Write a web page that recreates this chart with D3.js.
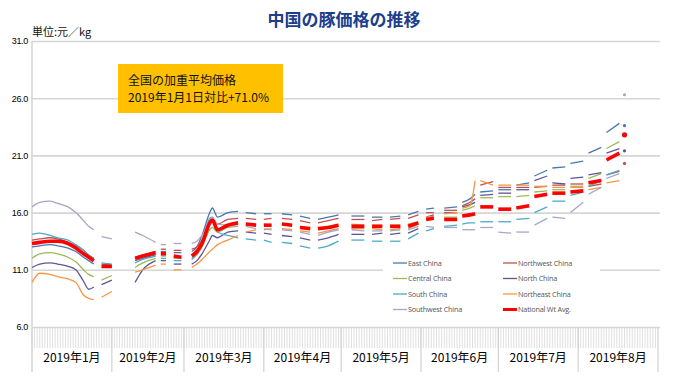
<!DOCTYPE html>
<html><head><meta charset="utf-8">
<script src="https://cdn.jsdelivr.net/npm/d3@7"></script>
<style>
html,body{margin:0;padding:0;background:#fff;}
svg{display:block;}
</style></head>
<body><svg id="chart" width="680" height="379"></svg>
<script>
// ---------- DATA ----------
const titleText = "中国の豚価格の推移";
const unitText = "単位:元／kg";
const noteLines = ["全国の加重平均価格", "2019年1月1日対比+71.0%"];
const yTicks = [6, 11, 16, 21, 26, 31];
const monthLabels = ["2019年1月","2019年2月","2019年3月","2019年4月","2019年5月","2019年6月","2019年7月","2019年8月"];
const seriesNames = ["East China","Northwest China","Central China","North China","South China","Northeast China","Southwest China","National Wt Avg."];

const dates = [
 "2019-01-01","2019-01-04","2019-01-08","2019-01-11","2019-01-15","2019-01-18","2019-01-21","2019-01-23","2019-01-25",
 "2019-01-28","2019-02-01",
 "2019-02-10","2019-02-13","2019-02-18",
 "2019-02-20","2019-02-22",
 "2019-02-25","2019-02-28",
 "2019-03-04","2019-03-06","2019-03-08","2019-03-11","2019-03-12","2019-03-14","2019-03-18","2019-03-22",
 "2019-03-25","2019-03-29",
 "2019-04-01","2019-04-04",
 "2019-04-08","2019-04-12",
 "2019-04-15","2019-04-19",
 "2019-04-22","2019-04-26","2019-04-30",
 "2019-05-05","2019-05-10",
 "2019-05-13","2019-05-17",
 "2019-05-20","2019-05-24",
 "2019-05-27","2019-05-31",
 "2019-06-03","2019-06-06",
 "2019-06-10","2019-06-15",
 "2019-06-17","2019-06-20","2019-06-22",
 "2019-06-24","2019-06-29",
 "2019-07-01","2019-07-06",
 "2019-07-08","2019-07-13",
 "2019-07-15","2019-07-20",
 "2019-07-22","2019-07-27",
 "2019-07-29","2019-08-03",
 "2019-08-05","2019-08-10",
 "2019-08-12","2019-08-17",
 "2019-08-19"];
const segmentIds = [
 0,0,0,0,0,0,0,0,0, 1,1, 2,2,2, 3,3, 4,4, 5,5,5,5,5,5,5,5, 6,6, 7,7, 8,8, 9,9, 10,10,10,
 11,11, 12,12, 13,13, 14,14, 15,15, 16,16, 17,17,17, 18,18, 19,19, 20,20, 21,21, 22,22,
 23,23, 24,24, 25,25, 26];

const eastChina = [13.0,13.1,13.2,13.1,12.9,12.6,12.1,11.8,11.5, 11.2,11.2, 11.8,12.0,12.3, 12.6,12.6, 12.5,12.5,
 12.6,13.0,14.0,16.0,16.4,15.6,16.0,16.1, 16.0,15.9, 15.9,15.9, 15.9,15.8, 15.7,15.5, 15.4,15.6,15.8,
 15.7,15.7, 15.6,15.6, 15.6,15.7, 15.8,16.1, 16.3,16.4, 16.4,16.5, 16.9,17.2,17.6, 17.8,17.9, 18.0,18.0,
 18.4,18.6, 19.2,19.7, 19.9,20.0, 20.3,20.5, 21.2,21.7, 23.0,23.8, 23.6];
const northwestChina = [13.6,13.7,13.8,13.7,13.4,13.1,12.7,12.3,12.0, 11.5,11.4, 12.1,12.3,12.6, 12.8,12.8, 12.7,12.7,
 12.8,13.0,13.6,15.0,15.2,15.0,15.4,15.5, 15.5,15.4, 15.4,15.5, 15.5,15.4, 15.3,15.1, 15.1,15.3,15.5,
 15.4,15.4, 15.3,15.4, 15.4,15.5, 15.5,15.8, 16.0,16.0, 16.2,16.2, 16.6,16.9,17.2, 18.4,18.7, 18.2,18.2,
 18.2,18.2, 18.2,18.3, 18.4,18.4, 18.5,18.5, 18.3,18.5, 19.3,19.6, 20.3];
const centralChina = [12.0,12.4,12.5,12.4,12.1,11.7,11.0,10.6,10.4, 10.1,10.5, 11.2,11.6,12.0, 12.2,12.2, 12.0,12.0,
 12.0,12.3,13.0,14.5,14.7,14.3,14.7,14.8, 15.0,15.0, 15.0,14.9, 15.0,14.9, 14.8,14.6, 14.6,14.8,15.0,
 15.0,14.9, 14.9,14.9, 14.9,14.9, 15.0,15.2, 15.4,15.5, 15.6,15.6, 16.2,16.4,16.6, 17.3,17.3, 17.4,17.4,
 17.4,17.5, 17.8,17.9, 18.0,18.0, 18.3,18.3, 19.0,19.4, 21.6,22.2, null];
const northChina = [11.2,11.5,11.6,11.5,11.3,11.0,10.0,9.3,9.5, 9.7,10.1, 9.9,11.0,11.8, 11.8,11.8, 11.5,11.5,
 11.5,11.8,12.4,13.6,14.0,13.8,14.3,14.4, 14.3,14.2, 14.2,14.1, 14.0,13.9, 13.8,13.6, 13.6,13.8,14.1,
 14.1,14.1, 14.1,14.2, 14.1,14.2, 14.2,14.6, 15.6,15.8, 16.0,16.0, 16.5,16.7,16.9, 17.5,17.6, 17.7,17.7,
 18.0,18.0, 18.8,19.2, 18.6,18.5, 19.0,19.1, 19.3,19.5, 21.2,21.6, 21.4];
const southChina = [14.1,14.2,14.0,13.8,13.6,13.2,12.7,12.3,12.0, 11.6,11.5, 11.6,11.9,12.2, 12.0,12.0, 11.8,11.8,
 11.9,12.4,13.2,15.5,15.6,14.3,14.0,13.8, 13.7,13.6, 13.6,13.4, 13.4,13.3, 13.1,12.9, 12.9,13.1,13.5,
 13.6,13.6, 13.5,13.5, 13.5,13.5, 13.7,14.2, 14.4,14.6, 14.8,14.9, 15.0,15.1,15.1, 15.2,15.2, 15.2,15.2,
 15.4,15.5, 16.0,16.5, 17.0,17.0, 17.5,17.8, 18.3,18.8, 19.3,19.7, null];
const northeastChina = [9.9,10.7,10.6,10.4,10.2,9.9,8.8,8.5,8.4, 8.6,9.1, 10.8,11.0,11.4, 11.5,11.5, 11.0,11.0,
 11.2,11.5,11.9,12.6,12.8,13.2,13.6,14.0, 14.3,14.5, 14.5,14.6, 14.6,14.5, 14.4,14.3, 14.2,14.4,14.6,
 14.6,14.6, 14.6,14.5, 14.5,14.6, 14.6,15.0, 15.6,15.7, 15.9,16.0, 16.4,16.6,18.8, 18.8,18.4, 18.4,18.4,
 18.4,18.4, 18.3,18.3, 18.2,18.2, 18.2,18.2, 18.0,18.2, 18.6,18.8, null];
const southwestChina = [16.5,16.9,17.0,16.8,16.5,16.0,15.3,14.8,14.5, 13.9,13.7, 14.3,14.0,13.4, 13.2,13.2, 13.3,13.3,
 13.3,13.5,14.0,15.3,15.6,15.0,14.9,14.8, 14.8,14.6, 14.6,14.5, 14.5,14.4, 14.3,14.1, 14.0,14.3,14.5,
 14.5,14.4, 14.4,14.4, 14.4,14.5, 14.5,14.8, 14.8,14.7, 14.7,14.7, 14.5,14.5,14.5, 14.7,14.7, 14.3,14.2,
 14.3,14.3, 14.9,15.5, 15.6,15.5, 16.0,16.9, 17.6,18.2, 19.0,19.4, 26.3];
const nationalAvg = [13.3,13.4,13.5,13.5,13.3,12.9,12.4,12.1,11.8, 11.3,11.3, 12.0,12.2,12.5, 12.4,12.4, 12.2,12.1,
 12.2,12.6,13.3,15.1,15.35,14.5,14.9,15.1, 15.0,14.9, 14.9,14.9, 15.0,14.9, 14.7,14.6, 14.6,14.7,14.9,
 14.8,14.8, 14.8,14.8, 14.8,14.8, 14.8,15.1, 15.4,15.5, 15.4,15.4, 15.7,15.8,15.9, 16.5,16.5, 16.3,16.3,
 16.4,16.6, 17.4,17.6, 17.7,17.7, 17.8,17.9, 18.6,18.8, 20.6,21.2, 22.8];

const seriesValues = [eastChina, northwestChina, centralChina, northChina, southChina, northeastChina, southwestChina, nationalAvg];

// ---------- STYLE ----------
const colors = ["#4a78ad","#c0504d","#9bbb59","#5f5596","#4bacc6","#f79646","#a3a8c6","#ff0000"];
const widths = [1.3,1.3,1.3,1.3,1.3,1.3,1.3,3.6];
const jpFont = "'Noto Sans CJK JP', 'Noto Sans', sans-serif";

const svg = d3.select("#chart");
const parse = d3.utcParse("%Y-%m-%d");
const start = Date.UTC(2019,0,1), end = Date.UTC(2019,8,1);
const x = d3.scaleUtc().domain([new Date(start), new Date(end)]).range([32, 658]);
const y = d3.scaleLinear().domain([6, 31]).range([327, 41]);

// Title
svg.append("text").attr("x", 344).attr("y", 26).attr("text-anchor","middle")
  .attr("font-family", jpFont).attr("font-weight","bold").attr("font-size",17)
  .attr("fill","#1d3e8c").text(titleText);
svg.append("text").attr("x", 32).attr("y", 36)
  .attr("font-family", jpFont).attr("font-size",11).attr("fill","#111").text(unitText);

// Y gridlines + labels
const yAxis = d3.axisLeft(y).tickValues(yTicks).tickFormat(d3.format(".1f")).tickSize(-628).tickPadding(4);
const gy = svg.append("g").attr("transform","translate(32,0)").call(yAxis);
gy.select(".domain").remove();
gy.selectAll(".tick line").attr("stroke","#d6d6d6").attr("stroke-width",1.6);
gy.selectAll(".tick text").attr("font-family","'Liberation Sans', Arial, sans-serif")
  .attr("font-size",9).attr("fill","#000").attr("letter-spacing","-0.3");

// daily tick band
const days = d3.utcDay.range(new Date(start), new Date(end));
svg.append("g").selectAll("line").data(days).join("line")
  .attr("x1", d=>x(d)).attr("x2", d=>x(d)).attr("y1",328).attr("y2",348)
  .attr("stroke","#d2d2d2").attr("stroke-width",0.7);
// month separators
const months = d3.utcMonth.range(new Date(start), new Date(end + 1));
svg.append("g").selectAll("line").data(months).join("line")
  .attr("x1", d=>x(d)).attr("x2", d=>x(d)).attr("y1",41).attr("y2",372)
  .attr("stroke", (d,i)=> i===0 ? "#d6d6d6" : "#c9c9c9").attr("stroke-width", (d,i)=> i===0 ? 1.6 : 1)
  .attr("y1", (d,i)=> i===0 ? 41 : 328);
// month labels
svg.append("g").selectAll("text").data(monthLabels).join("text")
  .attr("x", (d,i)=> (x(new Date(Date.UTC(2019,i,1))) + x(new Date(Date.UTC(2019,i+1,1))))/2)
  .attr("y", 362).attr("text-anchor","middle")
  .attr("font-family", jpFont).attr("font-size",12).attr("fill","#000").text(d=>d);

// Series
const line = d3.line().x(d=>x(d.date)).y(d=>y(d.v)).curve(d3.curveMonotoneX);
const gSeries = svg.append("g");
seriesValues.forEach((vals, si) => {
  const pts = dates.map((dd,i)=>({date: parse(dd), v: vals[i], seg: segmentIds[i]})).filter(p=>p.v!=null);
  const groups = d3.groups(pts, p=>p.seg);
  const g = gSeries.append("g");
  groups.forEach(([k, arr]) => {
    if (arr.length > 1) {
      g.append("path").attr("d", line(arr)).attr("fill","none")
        .attr("stroke", colors[si]).attr("stroke-width", widths[si]).attr("stroke-linejoin","round");
    } else {
      g.append("circle").attr("cx", x(arr[0].date)).attr("cy", y(arr[0].v))
        .attr("r", si===7 ? 2.6 : 1.6).attr("fill", colors[si]);
    }
  });
});

// Note box
svg.append("rect").attr("x",118).attr("y",64).attr("width",165).attr("height",49).attr("fill","#ffc000");
noteLines.forEach((t,i)=>{
  svg.append("text").attr("x",128).attr("y", 85 + i*17)
    .attr("font-family", jpFont).attr("font-size",12).attr("fill","#111").text(t);
});

// Legend
const lg = svg.append("g");
lg.append("rect").attr("x",383).attr("y",252).attr("width",217).attr("height",66).attr("fill","#fff");
const legendOrder = [0,2,4,6,1,3,5,7];
legendOrder.forEach((si, k) => {
  const col = Math.floor(k/4), row = k%4;
  const lx = col===0 ? 393 : 503, ly = 263 + row*15.5;
  lg.append("line").attr("x1",lx).attr("x2",lx+14).attr("y1",ly).attr("y2",ly)
    .attr("stroke",colors[si]).attr("stroke-width", si===7 ? 3 : 1.3);
  lg.append("text").attr("x", lx+15).attr("y", ly+2.6)
    .attr("font-family","'Open Sans', sans-serif").attr("font-size",7.3).attr("fill","#555")
    .attr("letter-spacing","-0.2").text(seriesNames[si]);
});
</script></body></html>
